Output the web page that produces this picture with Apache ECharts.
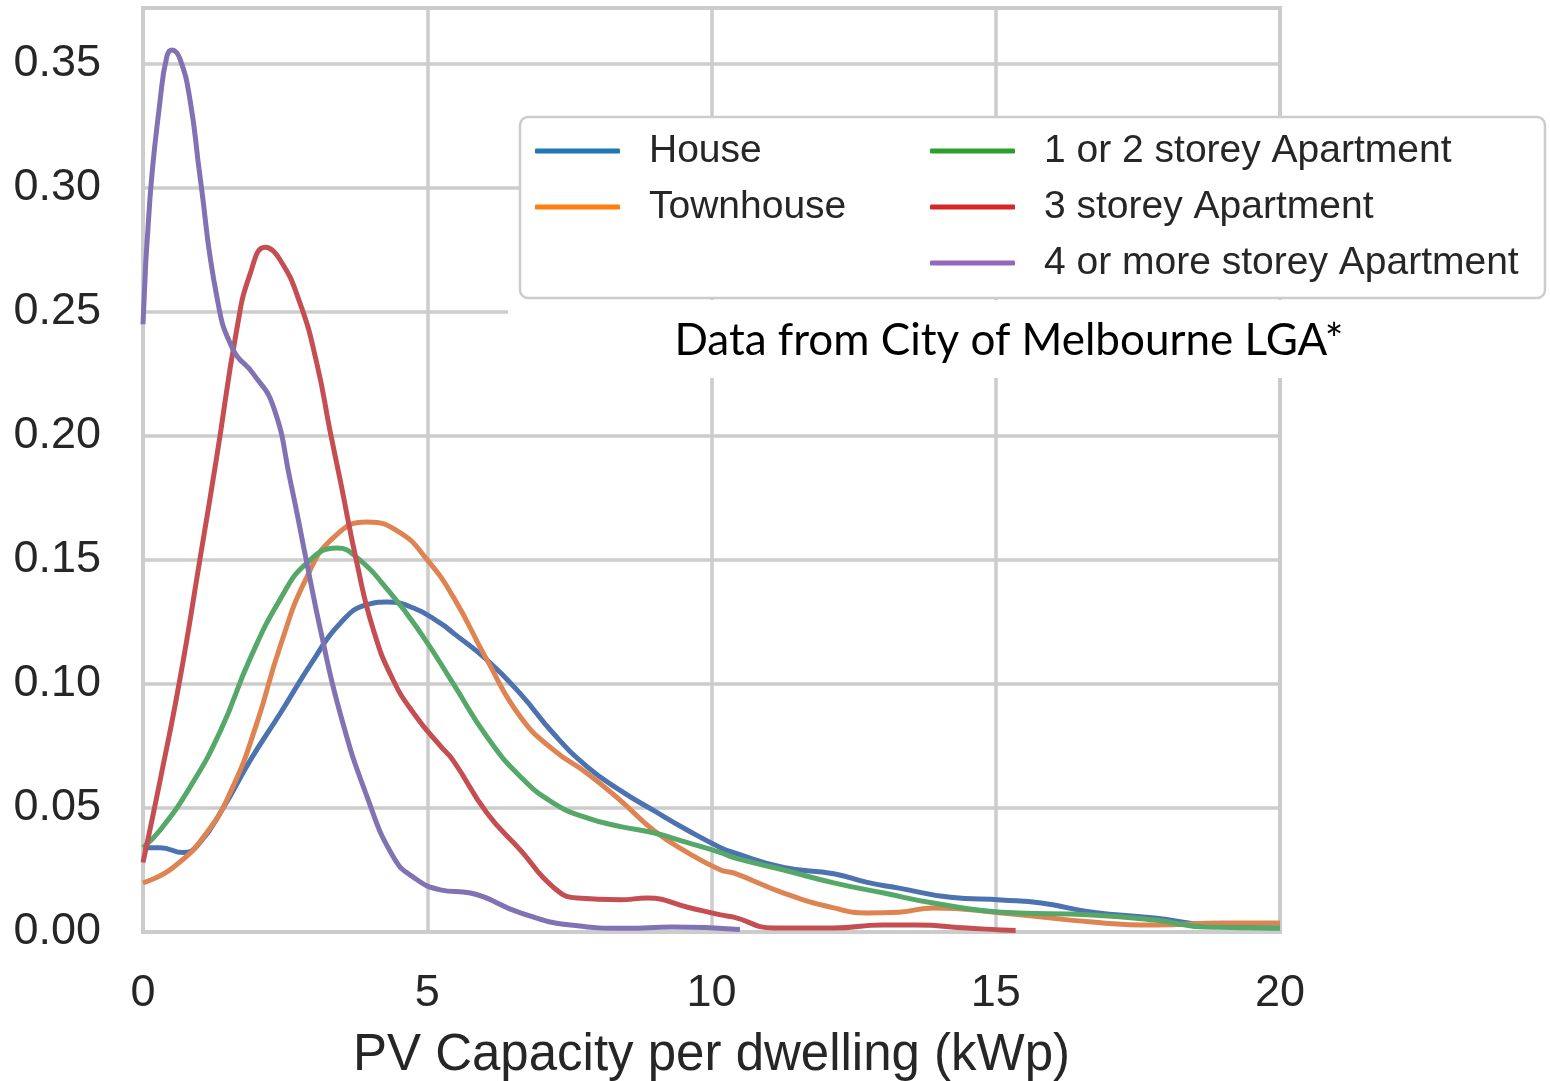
<!DOCTYPE html>
<html>
<head>
<meta charset="utf-8">
<script src="https://cdn.jsdelivr.net/npm/echarts@6/dist/echarts.min.js"></script>
<style>
  html, body { margin: 0; padding: 0; background: #fff; }
  #chart { width: 1550px; height: 1081px; }
</style>
</head>
<body>
<div id="chart"></div>
<script>
// PV capacity density curves
const houseX = [0, 0.3, 0.71, 1.0, 1.41, 1.88, 2.41, 3.0, 3.47, 3.94, 4.29, 4.76, 5.23, 5.46, 6.05, 6.64, 7.22, 7.81, 8.4, 8.98, 9.58, 10.16, 10.39, 11.27, 12.15, 12.74, 13.3, 14.2, 15.1, 15.8, 16.7, 17.8, 18.7, 20];
const houseY = [0.034, 0.034, 0.032, 0.036, 0.050, 0.069, 0.088, 0.1097, 0.1245, 0.132, 0.133, 0.1306, 0.1245, 0.1205, 0.1097, 0.096, 0.080, 0.0667, 0.057, 0.049, 0.041, 0.034, 0.032, 0.026, 0.0235, 0.020, 0.0177, 0.014, 0.0129, 0.0117, 0.008, 0.0056, 0.0028, 0.0016];

const townX = [0, 0.53, 1.12, 1.58, 2.0, 2.41, 2.88, 3.35, 3.94, 4.52, 5.0, 5.46, 6.05, 6.64, 7.22, 7.81, 8.4, 8.98, 9.58, 10.16, 10.39, 11.27, 12.15, 12.74, 13.3, 13.9, 15.1, 16.7, 17.8, 19.0, 20];
const townY = [0.0198, 0.026, 0.040, 0.0585, 0.084, 0.115, 0.143, 0.159, 0.1653, 0.161, 0.150, 0.135, 0.1097, 0.0867, 0.0734, 0.064, 0.053, 0.041, 0.032, 0.025, 0.0238, 0.0157, 0.0097, 0.0077, 0.008, 0.0097, 0.0077, 0.004, 0.0028, 0.0036, 0.0036];

const apt12X = [0, 0.3, 0.83, 1.36, 1.88, 2.41, 2.88, 3.41, 3.76, 4.35, 4.9, 5.46, 6.05, 6.64, 7.22, 7.81, 8.4, 8.98, 9.58, 10.16, 10.39, 11.27, 12.15, 13.03, 13.9, 15.1, 16.7, 17.8, 18.7, 20];
const apt12Y = [0.034, 0.041, 0.0585, 0.081, 0.110, 0.134, 0.1487, 0.1548, 0.151, 0.1367, 0.120, 0.100, 0.0787, 0.0626, 0.052, 0.046, 0.0425, 0.040, 0.036, 0.032, 0.030, 0.025, 0.0198, 0.0157, 0.0117, 0.008, 0.0069, 0.0048, 0.002, 0.0016];

const apt3X = [0, 0.3, 0.65, 1.0, 1.3, 1.65, 1.88, 2.15, 2.41, 2.76, 3.06, 3.29, 3.47, 3.76, 4.05, 4.40, 4.8, 5.23, 5.46, 6.05, 6.64, 7.22, 7.64, 8.4, 8.87, 9.58, 10.16, 10.39, 11.1, 12.15, 13.0, 13.6, 14.5, 15.1, 15.35];
const apt3Y = [0.028, 0.061, 0.102, 0.150, 0.192, 0.243, 0.265, 0.276, 0.271, 0.2536, 0.229, 0.202, 0.182, 0.149, 0.122, 0.1016, 0.087, 0.075, 0.069, 0.048, 0.033, 0.018, 0.0137, 0.013, 0.0137, 0.010, 0.0069, 0.006, 0.0016, 0.0016, 0.0028, 0.0028, 0.0016, 0.0008, 0.0006];

const apt4X = [0, 0.12, 0.3, 0.42, 0.51, 0.65, 0.83, 1.0, 1.3, 1.58, 1.94, 2.29, 2.59, 2.88, 3.12, 3.47, 3.94, 4.41, 4.76, 5.23, 5.76, 6.64, 7.52, 8.5, 9.3, 10.5];
const apt4Y = [0.245, 0.295, 0.335, 0.353, 0.3556, 0.352, 0.335, 0.305, 0.256, 0.235, 0.225, 0.212, 0.182, 0.149, 0.122, 0.088, 0.0546, 0.030, 0.022, 0.017, 0.0157, 0.0077, 0.0028, 0.0015, 0.002, 0.001];

const seriesNames = ['House', 'Townhouse', '1 or 2 storey Apartment', '3 storey Apartment', '4 or more storey Apartment'];
const lineColors = ['#4C72B0', '#DD8452', '#55A868', '#C44E52', '#8172B3'];
const legendColors = ['#1f77b4', '#ff7f0e', '#2ca02c', '#d62728', '#9467bd'];

const xTicks = [0, 5, 10, 15, 20];

function pairs(xs, ys) {
  return xs.map((x, i) => [x, ys[i]]);
}

const allData = [
  pairs(houseX, houseY),
  pairs(townX, townY),
  pairs(apt12X, apt12Y),
  pairs(apt3X, apt3Y),
  pairs(apt4X, apt4Y)
];

const chart = echarts.init(document.getElementById('chart'));

const textColor = '#262626';
const gridGray = '#cccccc';

function legendItem(i) {
  return { name: seriesNames[i], itemStyle: { color: legendColors[i] } };
}

const legendCommon = {
  orient: 'vertical',
  icon: 'roundRect',
  itemWidth: 85,
  itemHeight: 5,
  itemGap: 16,
  selectedMode: false,
  z: 10,
  textStyle: {
    fontFamily: 'Liberation Sans',
    fontSize: 39,
    lineHeight: 40,
    color: textColor,
    padding: [0, 0, 0, 24]
  }
};

const option = {
  backgroundColor: '#ffffff',
  animation: false,
  grid: {
    left: 143,
    top: 8,
    width: 1137,
    height: 924,
    outerBoundsMode: 'none',
    containLabel: false,
    show: true,
    backgroundColor: '#ffffff',
    borderColor: gridGray,
    borderWidth: 4
  },
  legend: [
    Object.assign({}, legendCommon, {
      left: 530,
      top: 126,
      data: [legendItem(0), legendItem(1)]
    }),
    Object.assign({}, legendCommon, {
      left: 925,
      top: 126,
      data: [legendItem(2), legendItem(3), legendItem(4)]
    })
  ],
  xAxis: {
    type: 'value',
    min: 0,
    max: 20,
    interval: 5,
    name: 'PV Capacity per dwelling (kWp)',
    nameLocation: 'middle',
    nameGap: 98,
    nameTextStyle: { fontFamily: 'Liberation Sans', fontSize: 51, color: textColor },
    axisLine: { show: false },
    axisTick: { show: false },
    axisLabel: {
      fontFamily: 'Liberation Sans',
      fontSize: 45,
      color: textColor,
      margin: 39,
      formatter: v => (xTicks.indexOf(v) >= 0 ? String(v) : '')
    },
    splitLine: { show: true, lineStyle: { color: gridGray, width: 3.5 } }
  },
  yAxis: {
    type: 'value',
    min: 0,
    max: 0.3725,
    interval: 0.05,
    axisLine: { show: false },
    axisTick: { show: false },
    axisLabel: {
      fontFamily: 'Liberation Sans',
      fontSize: 45,
      color: textColor,
      margin: 42,
      showMaxLabel: false,
      formatter: v => v.toFixed(2)
    },
    splitLine: { show: true, lineStyle: { color: gridGray, width: 3.5 } }
  },
  graphic: [
    {
      type: 'rect',
      z: 5,
      shape: { x: 508, y: 300, width: 897, height: 78 },
      style: { fill: '#ffffff' }
    },
    {
      type: 'rect',
      z: 6,
      shape: { x: 520, y: 117, width: 1025, height: 181, r: 8 },
      style: { fill: '#ffffff', stroke: gridGray, lineWidth: 2.5 }
    },
    {
      type: 'text',
      z: 7,
      x: 1009,
      y: 341,
      style: {
        text: 'Data from City of Melbourne LGA*',
        fontFamily: 'Lato',
        fontSize: 44,
        fill: '#000000',
        align: 'center',
        verticalAlign: 'middle'
      }
    }
  ],
  series: seriesNames.map((name, i) => ({
    name: name,
    type: 'line',
    data: allData[i],
    smooth: 0.5,
    showSymbol: false,
    symbol: 'none',
    z: 3,
    lineStyle: { color: lineColors[i], width: 5 },
    itemStyle: { color: lineColors[i] }
  }))
};

chart.setOption(option);
</script>
</body>
</html>
